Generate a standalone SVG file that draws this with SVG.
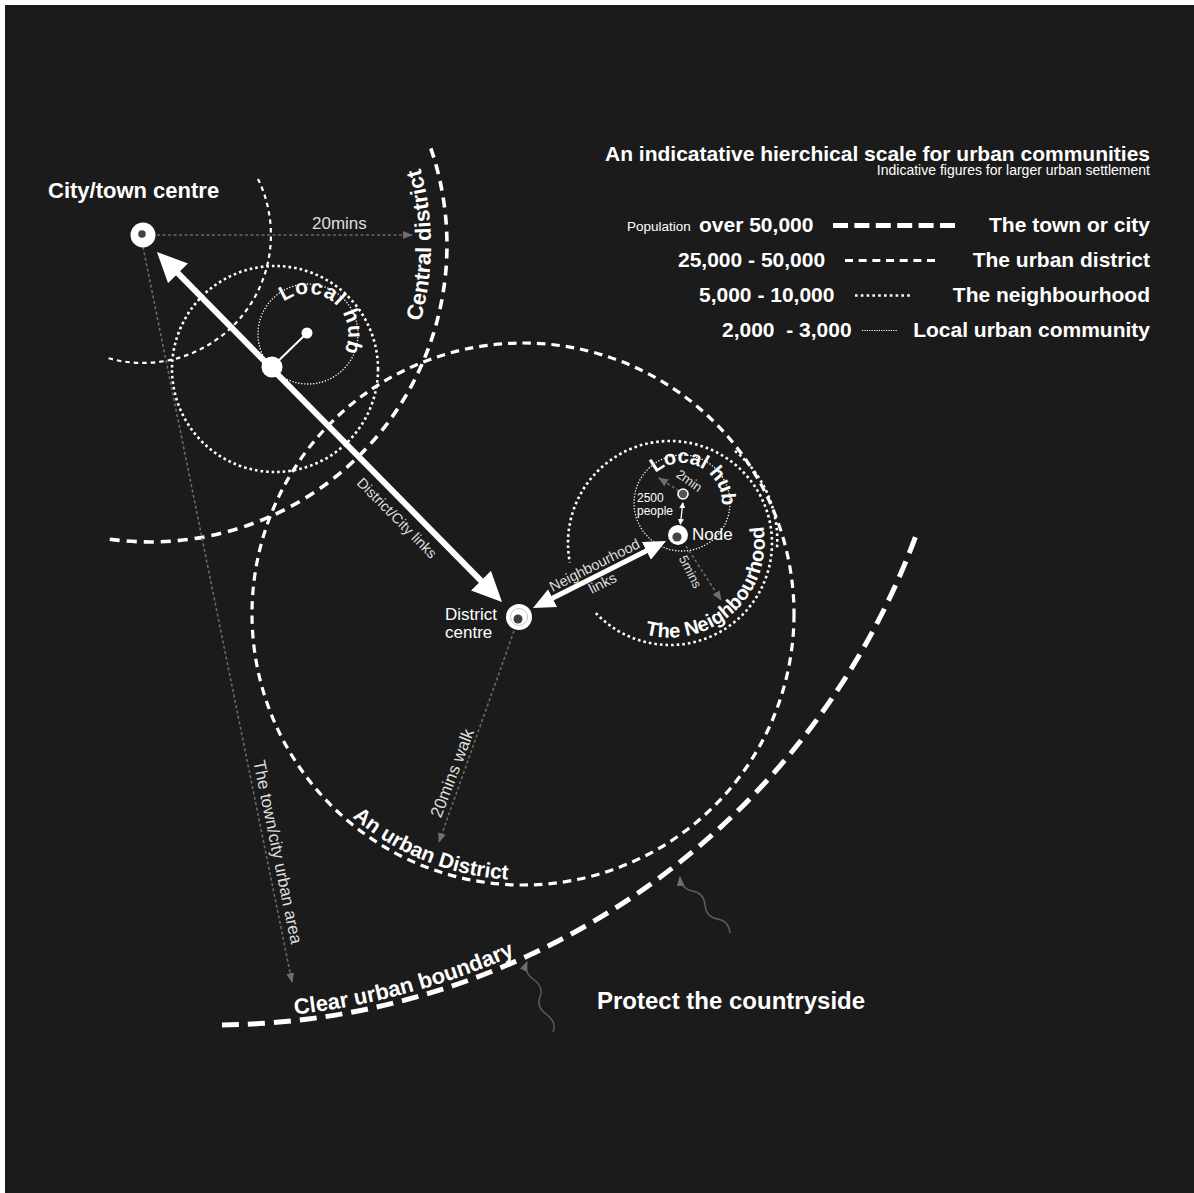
<svg xmlns="http://www.w3.org/2000/svg" width="1194" height="1193" viewBox="0 0 1194 1193">
<defs>
<style>
text { font-family: "Liberation Sans", Arial, Helvetica, sans-serif; fill: #ffffff; }
.b { font-weight: bold; }
.lbl { fill: #dedede; }
.town { fill: none; stroke: #fff; stroke-width: 5; stroke-dasharray: 17 9; }
.central { fill: none; stroke: #fff; stroke-width: 3.6; stroke-dasharray: 10 7; }
.district { fill: none; stroke: #fff; stroke-width: 3.2; stroke-dasharray: 8.5 6; }
.neigh { fill: none; stroke: #fff; stroke-width: 2.6; stroke-dasharray: 2.6 3; }
.short { fill: none; stroke: #fff; stroke-width: 2.2; stroke-dasharray: 4.5 4; }
.local { fill: none; stroke: #fff; stroke-width: 1.3; stroke-dasharray: 1.3 1.7; }
.dim { fill: none; stroke: #6a6a6a; stroke-width: 1.6; stroke-dasharray: 3 2.5; }
.squig { fill: none; stroke: #5e5e5e; stroke-width: 1.4; }
.arrow { stroke: #fff; fill: none; }
</style>
<marker id="bigHead" viewBox="0 0 30 28" markerWidth="30" markerHeight="28" refX="10" refY="14" orient="auto-start-reverse" markerUnits="userSpaceOnUse">
<path d="M0,0 L30,14 L0,28 Z" fill="#fff"/>
</marker>
<marker id="midHead" viewBox="0 0 22 20" markerWidth="22" markerHeight="20" refX="7" refY="10" orient="auto-start-reverse" markerUnits="userSpaceOnUse">
<path d="M0,0 L22,10 L0,20 Z" fill="#fff"/>
</marker>
<marker id="tinyHead" viewBox="0 0 6 6" markerWidth="6" markerHeight="6" refX="5" refY="3" orient="auto-start-reverse" markerUnits="userSpaceOnUse">
<path d="M0,0 L6,3 L0,6 Z" fill="#fff"/>
</marker>
<marker id="dimHead" viewBox="0 0 10 8" markerWidth="10" markerHeight="8" refX="9" refY="4" orient="auto" markerUnits="userSpaceOnUse">
<path d="M0,0 L10,4 L0,8 Z" fill="#6e6e6e"/>
</marker>
<path id="tp-central" d="M393.4,385.5 A281,281 0 0 0 393.4,104.5"/>
<path id="tp-urban" d="M279.5,718.8 A266,266 0 0 0 628.8,858.5"/>
<path id="tp-boundary" d="M118,1012.9 A743,743 0 0 0 666.8,864.3"/>
<path id="tp-neigh" d="M601.7,609 A95,95 0 0 0 741.7,480.7"/>
<path id="tp-hub1" d="M282.3,303.4 A40,40 0 1 1 328,368.6"/>
<path id="tp-hub2" d="M654.7,473.7 A40,40 0 1 1 702,537.6"/>
</defs>

<rect x="0" y="0" width="1194" height="1193" fill="#ffffff"/>
<rect x="5" y="5" width="1189" height="1188" fill="#1b1b1b"/>

<!-- Area boundaries -->
<g id="boundaries">
<path id="urban-boundary" class="town" d="M222,1025 A749,749 0 0 0 918,530"/>
<path id="central-district-arc" class="central" d="M430.8,148.3 A297,297 0 0 1 103.5,538.3"/>
<circle id="urban-district-circle" class="district" cx="523" cy="614" r="271"/>
<path id="city-walk-arc" class="short" d="M258,178.9 A128,128 0 0 1 107.7,358"/>
<circle id="hub1-neighbourhood" class="neigh" cx="275" cy="369" r="103"/>
<circle id="hub1-local" class="local" cx="308" cy="334" r="50"/>
<path id="neighbourhood-circle" class="neigh" d="M595.9,613.1 A102,102 0 1 0 569.9,562.6"/>
<path id="neighbourhood-outer" class="neigh" d="M735,451 A115,115 0 0 1 777,548"/>
<circle id="hub2-local" class="local" cx="682" cy="503" r="48"/>
</g>

<!-- Connectors -->
<g id="connectors">
<line class="arrow" x1="171" y1="266.2" x2="488" y2="587.8" stroke-width="6" marker-start="url(#bigHead)" marker-end="url(#bigHead)"/>
<line class="arrow" x1="546.4" y1="601.3" x2="652.6" y2="547.7" stroke-width="5" marker-start="url(#midHead)" marker-end="url(#midHead)"/>
<line class="arrow" x1="272" y1="367" x2="307" y2="333" stroke-width="2"/>
<line class="arrow" x1="682.8" y1="503" x2="680.4" y2="524" stroke-width="1.3" marker-start="url(#tinyHead)" marker-end="url(#tinyHead)"/>
<path class="dim" d="M157,235 L412,235" marker-end="url(#dimHead)"/>
<path class="dim" d="M143,247 L292,982" marker-end="url(#dimHead)"/>
<path class="dim" d="M514,631 L439,842" marker-end="url(#dimHead)"/>
<path class="dim" d="M686,546 L721,600" marker-end="url(#dimHead)"/>
<path class="dim" d="M679,491 L659,478" marker-end="url(#dimHead)"/>
<path class="squig" d="M553,1032 Q557,1022 546.5,1014.5 T540,997 T533.5,979.5 T527,962" marker-end="url(#dimHead)"/>
<path class="squig" d="M730,933 Q729,921 717.5,919 T705,905 T692.5,891 T680,877" marker-end="url(#dimHead)"/>
</g>

<!-- Nodes -->
<g id="node-city-centre">
<circle cx="143" cy="235" r="12.5" fill="#fff"/>
<circle cx="142" cy="234" r="3.8" fill="#444"/>
<text class="b" x="48" y="198" font-size="22">City/town centre</text>
</g>
<g id="node-local-hub-central">
<circle cx="272" cy="367" r="10.5" fill="#fff"/>
<circle cx="307" cy="333" r="5.5" fill="#fff"/>
<text class="b" font-size="21" letter-spacing="1"><textPath href="#tp-hub1" startOffset="2">Local hub</textPath></text>
</g>
<g id="node-district-centre">
<circle cx="519" cy="617" r="13" fill="#fff"/>
<circle cx="519" cy="617" r="8.5" fill="none" stroke="#c8c8c8" stroke-width="1"/>
<circle cx="518" cy="619" r="4.5" fill="#3d3d3d"/>
<text x="445" y="620" font-size="17">District</text>
<text x="445" y="638" font-size="17">centre</text>
</g>
<g id="node-neighbourhood">
<circle cx="678" cy="535" r="10" fill="#fff"/>
<circle cx="677" cy="537" r="4.6" fill="#444"/>
<text x="692" y="540" font-size="17">Node</text>
</g>
<g id="node-local-hub-neighbourhood">
<circle cx="683" cy="494" r="5" fill="#555" stroke="#fff" stroke-width="1.6"/>
<text class="b" font-size="20"><textPath href="#tp-hub2" startOffset="1">Local hub</textPath></text>
<text x="637" y="502" font-size="12">2500</text>
<text x="637" y="515" font-size="12">people</text>
</g>

<!-- Labels -->
<g id="labels">
<text class="b" font-size="22"><textPath href="#tp-central" startOffset="50%" text-anchor="middle">Central district</textPath></text>
<text class="b" font-size="21"><textPath href="#tp-urban" startOffset="50%" text-anchor="middle">An urban District</textPath></text>
<text class="b" font-size="22"><textPath href="#tp-boundary" startOffset="50%" text-anchor="middle">Clear urban boundary</textPath></text>
<text class="b" font-size="20"><textPath href="#tp-neigh" startOffset="50%" text-anchor="middle">The Neighbourhood</textPath></text>
<text class="lbl" x="312" y="229" font-size="17">20mins</text>
<text class="lbl" font-size="14.5" text-anchor="middle" transform="translate(397,518) rotate(45.4)" y="5">District/City links</text>
<text class="lbl" font-size="14.5" text-anchor="middle" transform="translate(595,566) rotate(-26.8)" y="4">Neighbourhood</text>
<text class="lbl" font-size="14.5" text-anchor="middle" transform="translate(603,584) rotate(-26.8)" y="4">links</text>
<text class="lbl" font-size="17" text-anchor="middle" transform="translate(278,852) rotate(78.3)" y="6">The town/city urban area</text>
<text class="lbl" font-size="17" text-anchor="middle" transform="translate(452,773) rotate(-69)" y="6">20mins walk</text>
<text class="lbl" font-size="13" text-anchor="middle" transform="translate(690,572) rotate(63)" y="4">5mins</text>
<text class="lbl" font-size="13" text-anchor="middle" transform="translate(689,481) rotate(35)" y="4">2min</text>
<text class="b" x="597" y="1009" font-size="24">Protect the countryside</text>
</g>

<!-- Legend -->
<g id="legend">
<text class="b" x="1150" y="161" font-size="21" text-anchor="end">An indicatative hierchical scale for urban communities</text>
<text x="1150" y="174.5" font-size="14" text-anchor="end" fill="#e6e6e6">Indicative figures for larger urban settlement</text>
<text x="627" y="231" font-size="13.5">Population</text>
<text class="b" x="699" y="231.5" font-size="21">over 50,000</text>
<line x1="833" y1="225.5" x2="955" y2="225.5" stroke="#fff" stroke-width="5" stroke-dasharray="15 6.4"/>
<text class="b" x="1150" y="231.5" font-size="21" text-anchor="end">The town or city</text>
<text class="b" x="678" y="266.5" font-size="21">25,000 - 50,000</text>
<line x1="845" y1="260.5" x2="935" y2="260.5" stroke="#fff" stroke-width="3" stroke-dasharray="8 5.67"/>
<text class="b" x="1150" y="266.5" font-size="21" text-anchor="end">The urban district</text>
<text class="b" x="699" y="301.5" font-size="21">5,000 - 10,000</text>
<line x1="855" y1="295.5" x2="913" y2="295.5" stroke="#fff" stroke-width="2.5" stroke-dasharray="2.6 3.2"/>
<text class="b" x="1150" y="301.5" font-size="21" text-anchor="end">The neighbourhood</text>
<text class="b" x="722" y="336.5" font-size="21" style="white-space:pre">2,000  - 3,000</text>
<line x1="862" y1="330.5" x2="897" y2="330.5" stroke="#fff" stroke-width="1.2" stroke-dasharray="1.2 1.2"/>
<text class="b" x="1150" y="336.5" font-size="21" text-anchor="end">Local urban community</text>
</g>
</svg>
